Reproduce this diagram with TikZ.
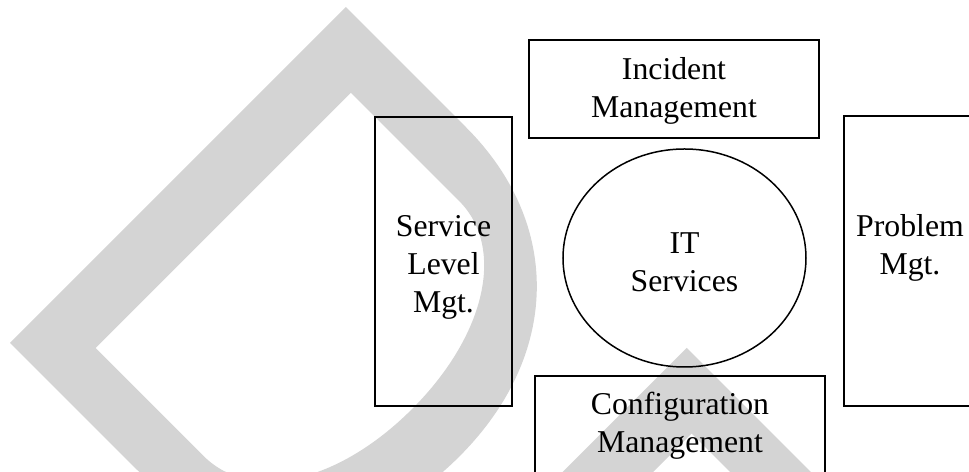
\documentclass[tikz,border=0pt]{standalone}
\usepackage{fontspec}
\setmainfont{Liberation Serif}
\usepackage{tikz}
\usetikzlibrary{shapes.geometric}
\definecolor{wmgray}{RGB}{212,212,212}
\tikzset{
  mgtbox/.style={draw, line width=0.7pt, inner sep=0pt, outer sep=0pt},
  mgtlabel/.style={align=center, anchor=base, inner sep=0pt, font=\fontsize{12.7}{15.2}\selectfont},
}

\begin{document}
\begin{tikzpicture}[x=0.4pt, y=-0.4pt]
        \useasboundingbox (0,0) rectangle (969,472);
        \begin{scope}
        \clip (0,0) rectangle (969,472);

        % Watermark: letter D and corner of letter R
        \coordinate (wm) at (10,343);
        \begin{scope}[shift={(wm)}, x={(0.28284pt,-0.28284pt)}, y={(0.28284pt,0.28284pt)}]
          \fill [wmgray, even odd rule] (0,0) -- (0,475) -- (170,475)
            .. controls (306.8,475) and (398,380) .. (398,237.5)
            .. controls (398,95) and (306.8,0) .. (170,0) -- cycle
            (64,57) -- (64,418) -- (217,418)
            .. controls (283,418) and (331,342) .. (331,237.5)
            .. controls (331,133) and (283,57) .. (217,57) -- cycle;%
          \fill [wmgray] (482,0) -- (482,475) -- (800,475) -- (800,418) -- (546,418) -- (546,0) -- cycle;%
        \end{scope}

        % Box Incident Management (label anchored on last baseline)
        \node [mgtbox, minimum width=116pt, minimum height=39.2pt] (incbox) at (674,89) {};%
        \node [mgtlabel] (inctext) at (674,118) {Incident\\Management};%

        % Box Service Level Mgt.
        \node [mgtbox, minimum width=54.8pt, minimum height=115.6pt] (slmbox) at (443.5,261.5) {};%
        \node [mgtlabel] (slmtext) at (443.5,313) {Service\\Level\\Mgt.};%

        % Ellipse IT Services
        \node [draw, ellipse, line width=0.6pt, inner sep=0pt, minimum width=97.2pt, minimum height=87.2pt] (itsvc) at (684.5,258) {};%
        \node [mgtlabel] (ittext) at (684.5,292) {IT\\Services};%

        % Box Problem Mgt.
        \node [mgtbox, minimum width=54.8pt, minimum height=116pt] (pmbox) at (912.5,261) {};%
        \node [mgtlabel] (pmtext) at (910,275) {Problem\\Mgt.};%

        % Box Configuration Management
        \node [mgtbox, minimum width=116pt, minimum height=39.2pt] (cfgbox) at (680,425) {};%
        \node [mgtlabel] (cfgtext) at (680,453) {Configuration\\Management};%
        \end{scope}
\end{tikzpicture}
\end{document}
